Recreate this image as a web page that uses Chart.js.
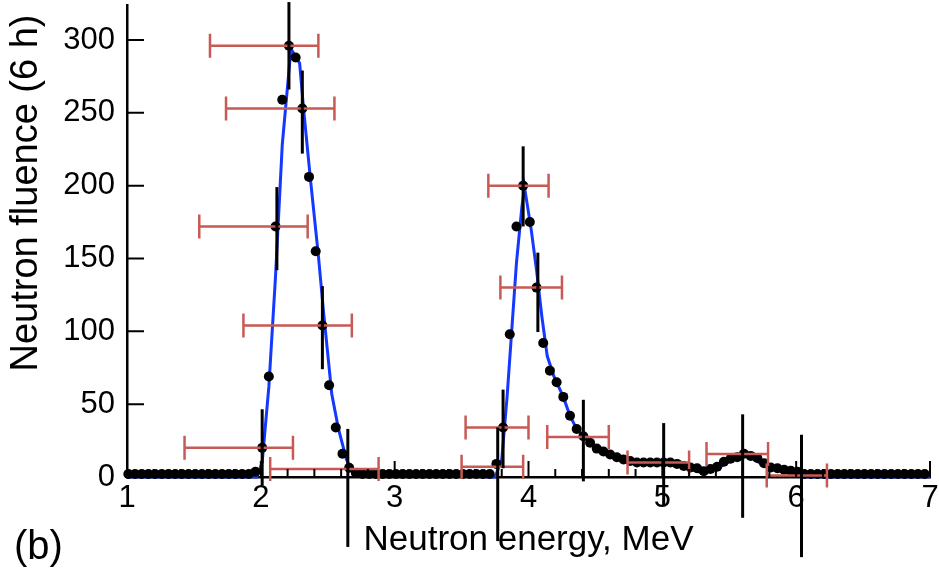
<!DOCTYPE html>
<html>
<head>
<meta charset="utf-8">
<script src="https://cdn.jsdelivr.net/npm/chart.js@4.4.1/dist/chart.umd.min.js"></script>
<style>
  html, body { margin: 0; padding: 0; background: #fff; }
  #wrap { width: 939px; height: 570px; position: relative; }
</style>
</head>
<body>
<div id="wrap"><canvas id="fluenceChart"></canvas></div>
<script>
// measured spectrum (black dots), MeV
const energies = [
  1.01, 1.06, 1.11, 1.16, 1.21, 1.26, 1.31, 1.36, 1.41, 1.46,
  1.51, 1.56, 1.61, 1.66, 1.71, 1.76, 1.81, 1.86, 1.91, 1.96,
  2.01, 2.06, 2.11, 2.16, 2.21, 2.26, 2.31, 2.36, 2.41, 2.46,
  2.51, 2.56, 2.61, 2.66, 2.71, 2.76, 2.81, 2.86, 2.91, 2.96,
  3.01, 3.06, 3.11, 3.16, 3.21, 3.26, 3.31, 3.36, 3.41, 3.46,
  3.51, 3.56, 3.61, 3.66, 3.71, 3.76, 3.81, 3.86, 3.91, 3.96,
  4.01, 4.06, 4.11, 4.16, 4.21, 4.26, 4.31, 4.36, 4.41, 4.46,
  4.51, 4.56, 4.61, 4.66, 4.71, 4.76, 4.81, 4.86, 4.91, 4.96,
  5.01, 5.06, 5.11, 5.16, 5.21, 5.26, 5.31, 5.36, 5.41, 5.46,
  5.51, 5.56, 5.61, 5.66, 5.71, 5.76, 5.81, 5.86, 5.91, 5.96,
  6.01, 6.06, 6.11, 6.16, 6.21, 6.26, 6.31, 6.36, 6.41, 6.46,
  6.51, 6.56, 6.61, 6.66, 6.71, 6.76, 6.81, 6.86, 6.91, 6.96
];
const fluence = [
  2, 2, 2, 2, 2, 2, 2, 2, 2, 2,
  2, 2, 2, 2, 2, 2, 2, 2, 2, 3.6,
  20, 69, 172, 259, 296, 288, 253, 206, 155, 104,
  63, 34, 16, 6.4, 2.7, 2, 2, 2, 2, 2,
  2, 2, 2, 2, 2, 2, 2, 2, 2, 2,
  2, 2, 2, 2, 2, 9, 34, 98, 172, 200,
  175, 130, 92, 73, 65, 55, 42, 33, 28, 23.5,
  19.5, 17.5, 15.5, 13.5, 12, 11, 10, 10, 10, 10,
  10, 10, 9, 7.5, 6.5, 6, 4, 5.5, 7, 10.5,
  12.5, 13.5, 16, 14.5, 13, 9.5, 6.5, 6, 5, 4.3,
  3.6, 2, 2, 2, 2, 2, 2, 2, 2, 2,
  2, 2, 2, 2, 2, 2, 2, 2, 2, 2
];

// blue calculated curve
const fitEnergies = [
  1.0, 1.97, 2.01, 2.06, 2.11, 2.16, 2.225, 2.29, 2.32, 2.37, 2.43, 2.47, 2.53, 2.58, 2.64, 2.69,
  3.75, 3.80, 3.84, 3.875, 3.91, 3.95, 3.97, 4.02, 4.06, 4.10, 4.14, 4.19, 4.26, 4.31, 4.36, 4.41,
  4.46, 4.51, 4.56, 4.61, 4.66, 4.71, 4.76, 4.81, 5.01, 5.11, 5.21, 5.31, 5.41, 5.51, 5.60, 5.66,
  5.74, 5.81, 5.91, 6.01, 6.06, 7.0
];
const fitFluence = [
  0, 0, 10, 62, 138, 228, 294, 284, 252, 205, 152, 112, 57, 33, 12, 2,
  0, 12, 55, 101, 147, 185, 199, 170, 142, 110, 83, 69, 55, 42, 33, 28,
  23.5, 19.5, 17.5, 15.5, 13.5, 12, 11, 10, 9.5, 8, 5.5, 2.5, 6, 11, 14.5, 13.5,
  9, 5.5, 3.5, 2, 0, 0
];

// points with error bars (red = energy spread, black = fluence error)
const errE    = [2.21, 2.31, 2.12, 2.46, 2.01, 2.65, 3.96, 4.07, 3.81, 3.77, 4.41, 5.01, 5.60, 6.04];
const errF    = [296, 253, 172, 104, 20, 5.5, 200, 130, 34, 7, 27.5, 10, 15.8, 1];
const errEMin = [1.62, 1.74, 1.54, 1.87, 1.43, 2.07, 3.70, 3.79, 3.53, 3.50, 4.14, 4.74, 5.33, 5.78];
const errEMax = [2.43, 2.55, 2.35, 2.68, 2.24, 2.88, 4.15, 4.25, 4.00, 3.96, 4.60, 5.20, 5.79, 6.23];
const errFMin = [266, 222, 142, 74, -6, -48, 172, 99.5, 6, -44, -3, -20, -28, -55];
const errFMax = [326, 279, 199, 131, 46.5, 33, 227, 154, 60, 34, 53, 37, 43, 29];

const xTicks = [1, 2, 3, 4, 5, 6, 7];
const yTicks = [0, 50, 100, 150, 200, 250, 300];

const FONT = '"Liberation Sans", Arial, sans-serif';
Chart.defaults.font.family = FONT;
Chart.defaults.color = '#000';

// inward tick marks, error bars and extra labels
const extrasPlugin = {
  id: 'extras',
  afterDatasetsDraw(chart) {
    const ctx = chart.ctx;
    const x = chart.scales.x, y = chart.scales.y;
    ctx.save();
    ctx.lineWidth = 2.5;
    ctx.strokeStyle = '#c85a55';
    for (let i = 0; i < errE.length; i++) {
      const py = y.getPixelForValue(errF[i]);
      const x0 = x.getPixelForValue(errEMin[i]);
      const x1 = x.getPixelForValue(errEMax[i]);
      ctx.beginPath();
      ctx.moveTo(x0, py); ctx.lineTo(x1, py);
      ctx.moveTo(x0, py - 12); ctx.lineTo(x0, py + 12);
      ctx.moveTo(x1, py - 12); ctx.lineTo(x1, py + 12);
      ctx.stroke();
    }
    ctx.strokeStyle = '#000';
    ctx.lineWidth = 3;
    for (let i = 0; i < errE.length; i++) {
      const px = x.getPixelForValue(errE[i]);
      ctx.beginPath();
      ctx.moveTo(px, y.getPixelForValue(errFMin[i]));
      ctx.lineTo(px, y.getPixelForValue(errFMax[i]));
      ctx.stroke();
    }
    ctx.restore();
  },
  afterDraw(chart) {
    const ctx = chart.ctx;
    const x = chart.scales.x, y = chart.scales.y;
    const area = chart.chartArea;
    ctx.save();
    ctx.strokeStyle = '#000';
    ctx.lineWidth = 2;
    ctx.beginPath();
    yTicks.forEach(v => {
      const py = y.getPixelForValue(v);
      ctx.moveTo(area.left, py); ctx.lineTo(area.left + 17, py);
    });
    for (let v = 1; v <= 7.001; v += 0.2) {
      const px = x.getPixelForValue(v);
      const major = Math.abs(v - Math.round(v)) < 0.01;
      ctx.moveTo(px, area.bottom); ctx.lineTo(px, area.bottom - (major ? 16 : 8));
    }
    ctx.stroke();

    ctx.fillStyle = '#000';
    ctx.textBaseline = 'middle';
    ctx.font = '40px ' + FONT;
    ctx.textAlign = 'left';
    ctx.fillText('(b)', 14, 548);

    ctx.translate(27, 193);
    ctx.rotate(-Math.PI / 2);
    ctx.textAlign = 'center';
    ctx.font = '38px ' + FONT;
    ctx.fillText('Neutron fluence (6 h)', 0, 0);
    ctx.restore();
  }
};

new Chart(document.getElementById('fluenceChart'), {
  type: 'scatter',
  data: {
    datasets: [
      {
        label: 'Measured',
        data: energies.map((e, i) => ({ x: e, y: fluence[i] })),
        pointRadius: 5,
        pointHoverRadius: 5,
        pointBackgroundColor: '#000',
        pointBorderWidth: 0,
        clip: false
      },
      {
        label: 'Calculated',
        data: fitEnergies.map((e, i) => ({ x: e, y: fitFluence[i] })),
        showLine: true,
        pointRadius: 0,
        borderColor: '#1438ff',
        borderWidth: 3,
        clip: false
      }
    ]
  },
  options: {
    responsive: true,
    maintainAspectRatio: false,
    devicePixelRatio: 1,
    animation: false,
    layout: { padding: { top: 5, right: 9, left: 0, bottom: 0 } },
    plugins: {
      legend: { display: false },
      tooltip: { enabled: false }
    },
    scales: {
      x: {
        type: 'linear',
        min: 1,
        max: 7,
        afterBuildTicks: s => { s.ticks = xTicks.map(v => ({ value: v })); },
        afterFit: s => { s.height = 93; s.paddingLeft = 0; s.paddingRight = 0; },
        grid: { display: true, drawOnChartArea: false, drawTicks: false },
        border: { color: '#000', width: 2.5 },
        ticks: { font: { size: 31 }, color: '#000', padding: 3, maxRotation: 0, autoSkip: false },
        title: {
          display: true,
          text: 'Neutron energy, MeV',
          font: { size: 35 },
          color: '#000',
          padding: { top: 0, bottom: 9 }
        }
      },
      y: {
        type: 'linear',
        min: 0,
        max: 324,
        afterBuildTicks: s => { s.ticks = yTicks.map(v => ({ value: v })); },
        afterFit: s => { s.width = 127; s.paddingTop = 0; s.paddingBottom = 0; },
        grid: { display: true, drawOnChartArea: false, drawTicks: false },
        border: { color: '#000', width: 2.5 },
        ticks: { font: { size: 31 }, color: '#000', padding: 12 }
      }
    }
  },
  plugins: [extrasPlugin]
});
</script>
</body>
</html>
